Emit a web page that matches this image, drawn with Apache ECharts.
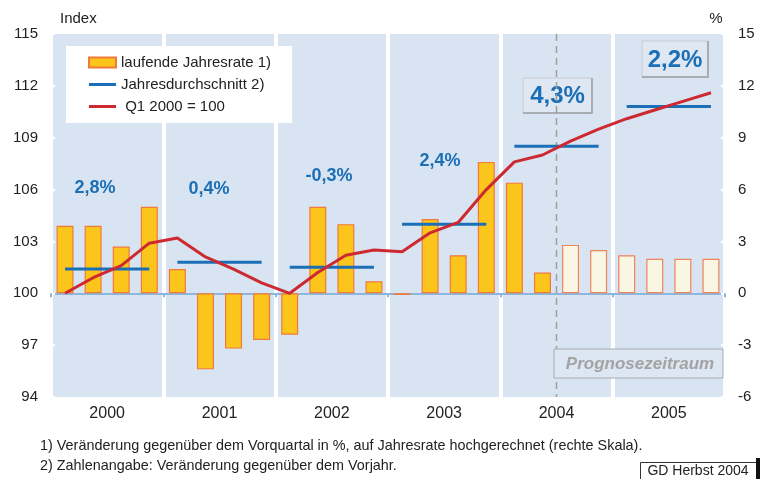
<!DOCTYPE html>
<html>
<head>
<meta charset="utf-8">
<script src="https://cdn.jsdelivr.net/npm/echarts@6/dist/echarts.min.js"></script>
<style>
  html, body { margin: 0; padding: 0; background: #fff; }
  #chart { width: 760px; height: 479px; }
</style>
</head>
<body>
<div id="chart"></div>
<script>
// --- data ---
const years = ['2000', '2001', '2002', '2003', '2004', '2005'];
const quarters = [];
years.forEach(y => { for (let q = 1; q <= 4; q++) quarters.push('Q' + q + ' ' + y); });

// laufende Jahresrate in % (rechte Skala)
const rates = [3.9, 3.9, 2.7, 5.0, 1.4, -4.4, -3.2, -2.7, -2.4, 5.0, 4.0, 0.7,
               -0.1, 4.3, 2.2, 7.6, 6.4, 1.2, 2.8, 2.5, 2.2, 2.0, 2.0, 2.0];
// Index Q1 2000 = 100 (linke Skala)
const indexValues = [100.0, 100.9, 101.6, 102.9, 103.2, 102.1, 101.4, 100.6, 100.0, 101.2, 102.2, 102.5,
                     102.4, 103.5, 104.1, 106.0, 107.6, 108.0, 108.8, 109.5, 110.1, 110.6, 111.1, 111.6];
// Jahresdurchschnitt (Index)
const yearAvg = [101.4, 101.8, 101.5, 104.0, 108.5, 110.8];
const yearLabels = ['2,8%', '0,4%', '-0,3%', '2,4%', '4,3%', '2,2%'];
const forecastStart = 18; // ab Q3 2004 Prognose

const FONT = 'Liberation Sans, Arial, sans-serif';
const BLUE = '#1b6fb6';
const LINE_ICON = 'path://M0,0L27,0L27,3L0,3Z';

const chart = echarts.init(document.getElementById('chart'));

const barData = rates.map((v, i) => i >= forecastStart
  ? { value: v, itemStyle: { color: '#f9f6e4', borderColor: '#f0845a' } }
  : v);

const avgSeries = yearAvg.map((v, y) => ({
  name: 'Jahresdurchschnitt 2)',
  type: 'line',
  yAxisIndex: 0,
  symbol: 'none',
  lineStyle: { color: BLUE, width: 3 },
  itemStyle: { color: BLUE },
  z: 4,
  data: quarters.map((q, i) => Math.floor(i / 4) === y ? +(v - 100).toFixed(2) : '-')
}));

// Positionen der Jahreszahlen-Labels
const labelPos = [[95, 188], [209, 189], [329, 176], [440, 161]];
const graphics = labelPos.map((p, i) => ({
  type: 'text', x: p[0], y: p[1],
  style: { text: yearLabels[i], font: 'bold 18px ' + FONT, fill: BLUE, align: 'center', verticalAlign: 'middle' }
}));

function boxedLabel(text, x0, y0, w, h) {
  return [
    { type: 'rect', shape: { x: x0, y: y0, width: w, height: h },
      style: { fill: '#dfe7f3', stroke: null } },
    { type: 'polyline', shape: { points: [[x0, y0], [x0 + w, y0], [x0 + w, y0 + h], [x0, y0 + h], [x0, y0]] },
      style: { stroke: '#c8ccd2', lineWidth: 1, fill: null } },
    { type: 'polyline', shape: { points: [[x0 + w, y0], [x0 + w, y0 + h], [x0, y0 + h]] },
      style: { stroke: '#9a9ea4', lineWidth: 1.5, fill: null } },
    { type: 'text', x: x0 + w / 2, y: y0 + h / 2 + 1,
      style: { text: text, font: 'bold 24px ' + FONT, fill: BLUE, align: 'center', verticalAlign: 'middle' } }
  ];
}

graphics.push(
  // Prognose-Trennlinie
  { type: 'line', shape: { x1: 556.5, y1: 34, x2: 556.5, y2: 397 },
    style: { stroke: '#a09e9a', lineWidth: 1.5, lineDash: [7, 5] }, z: 1 },
  ...boxedLabel(yearLabels[4], 523, 78, 69, 35),
  ...boxedLabel(yearLabels[5], 642, 41, 66, 36),
  { type: 'rect', shape: { x: 554, y: 349, width: 169, height: 29 },
    style: { fill: '#dde6f3', stroke: '#a9aaae', lineWidth: 1 }, z: 2 },
  { type: 'text', x: 640, y: 364, z: 3,
    style: { text: 'Prognosezeitraum', font: 'italic bold 17px ' + FONT, fill: '#a3a3a3', align: 'center', verticalAlign: 'middle' } },
  { type: 'text', x: 60, y: 19,
    style: { text: 'Index', font: '15px ' + FONT, fill: '#222', verticalAlign: 'middle' } },
  { type: 'text', x: 716, y: 19,
    style: { text: '%', font: '15px ' + FONT, fill: '#222', align: 'center', verticalAlign: 'middle' } },
  { type: 'text', x: 40, y: 446,
    style: { text: '1) Veränderung gegenüber dem Vorquartal in %, auf Jahresrate hochgerechnet (rechte Skala).', font: '14.4px ' + FONT, fill: '#222', verticalAlign: 'middle' } },
  { type: 'text', x: 40, y: 466,
    style: { text: '2) Zahlenangabe: Veränderung gegenüber dem Vorjahr.', font: '14.4px ' + FONT, fill: '#222', verticalAlign: 'middle' } },
  { type: 'rect', shape: { x: 640.5, y: 462.5, width: 116, height: 20 },
    style: { fill: '#fff', stroke: '#333', lineWidth: 1 } },
  { type: 'rect', shape: { x: 756, y: 458, width: 4, height: 21 },
    style: { fill: '#111' } },
  { type: 'text', x: 698, y: 471,
    style: { text: 'GD Herbst 2004', font: '14px ' + FONT, fill: '#222', align: 'center', verticalAlign: 'middle' } }
);

const option = {
  animation: false,
  textStyle: { fontFamily: FONT },
  grid: { left: 51, right: 35, top: 34, bottom: 82, show: true, backgroundColor: '#d9e4f3', borderWidth: 0 },
  legend: {
    left: 66, top: 46,
    orient: 'vertical',
    backgroundColor: '#fff',
    padding: [8, 21, 8, 22],
    itemGap: 5,
    itemWidth: 27,
    itemHeight: 10,
    textStyle: { fontSize: 15, color: '#222', lineHeight: 17 },
    data: [
      { name: 'laufende Jahresrate 1)', icon: 'rect' },
      { name: 'Jahresdurchschnitt 2)', icon: LINE_ICON, itemStyle: { color: BLUE } },
      { name: ' Q1 2000 = 100', icon: LINE_ICON, itemStyle: { color: '#cc2a30' } }
    ]
  },
  xAxis: [
    {
      type: 'category', data: quarters, position: 'bottom',
      axisLine: { onZero: true, lineStyle: { color: '#8db6de', width: 2 } },
      axisTick: { show: true, interval: 3, length: 4, lineStyle: { color: '#8db6de', width: 2 } },
      axisLabel: { show: false },
      splitLine: { show: false }
    },
    {
      type: 'category', data: years, position: 'bottom',
      axisLine: { show: false }, axisTick: { show: false },
      axisLabel: { fontSize: 16, color: '#222', margin: 9 },
      splitLine: { show: true, lineStyle: { color: '#ffffff', width: 4 } }
    }
  ],
  yAxis: [
    {
      type: 'value', min: -6, max: 15, interval: 3, position: 'left',
      axisLine: { show: false },
      axisTick: { show: true, inside: true, length: 4, lineStyle: { color: '#fff', width: 2 } },
      axisLabel: { fontSize: 15, color: '#222', margin: 13, formatter: v => String(v + 100) },
      splitLine: { show: false }
    },
    {
      type: 'value', min: -6, max: 15, interval: 3, position: 'right',
      axisLine: { show: false },
      axisTick: { show: true, inside: true, length: 4, lineStyle: { color: '#fff', width: 2 } },
      axisLabel: { fontSize: 15, color: '#222', margin: 13 },
      splitLine: { show: false }
    }
  ],
  series: [
    {
      name: 'laufende Jahresrate 1)',
      type: 'bar',
      xAxisIndex: 0,
      yAxisIndex: 1,
      barWidth: 17,
      itemStyle: { color: '#fcc51c', borderColor: '#f07a3a', borderWidth: 1.2 },
      z: 2,
      data: barData
    },
    ...avgSeries,
    {
      name: ' Q1 2000 = 100',
      type: 'line',
      yAxisIndex: 0,
      symbol: 'none',
      lineStyle: { color: '#cc2a30', width: 3 },
      itemStyle: { color: '#cc2a30' },
      z: 5,
      data: indexValues.map(v => +(v - 100).toFixed(2))
    }
  ],
  graphic: graphics
};

chart.setOption(option);
</script>
</body>
</html>
